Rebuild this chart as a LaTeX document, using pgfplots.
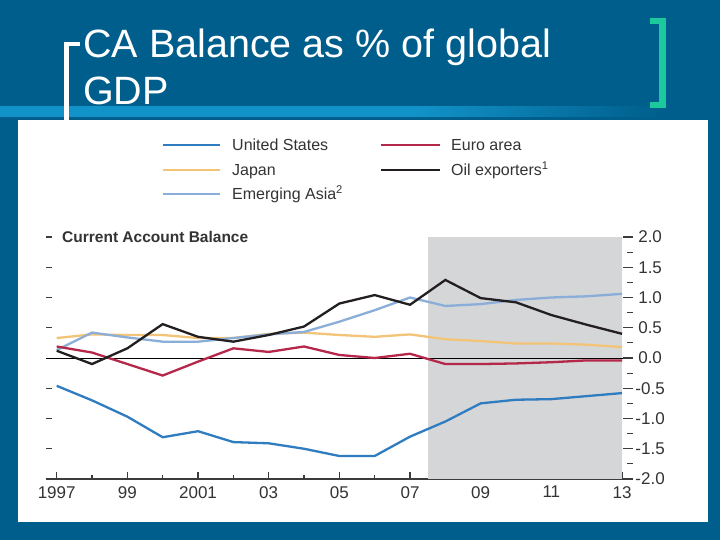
\documentclass[border=0pt]{standalone}
\usepackage{pgfplots}
\pgfplotsset{compat=1.18}
\usepackage{fontspec}
\setmainfont{Liberation Sans}
\definecolor{bg}{HTML}{005E8C}
\definecolor{band}{HTML}{1192C8}
\definecolor{grn}{HTML}{1CC99C}
\definecolor{shade}{HTML}{D5D6D8}
\definecolor{axgray}{HTML}{3C3C3C}
\definecolor{txt}{HTML}{333333}
\definecolor{cus}{HTML}{2F7DC0}
\definecolor{ceu}{HTML}{B5284A}
\definecolor{cjp}{HTML}{F3C478}
\definecolor{cea}{HTML}{8AAED8}
\definecolor{coil}{HTML}{231F20}
\pgfdeclarehorizontalshading{bandfade}{100bp}{color(0bp)=(band); color(54bp)=(band); color(71bp)=(bg); color(100bp)=(bg)}

\pgfplotstableread{
year us eu jp ea oil
1997 -0.46 0.19 0.33 0.13 0.12
1998 -0.70 0.09 0.39 0.42 -0.10
1999 -0.97 -0.10 0.38 0.34 0.16
2000 -1.31 -0.29 0.38 0.27 0.56
2001 -1.21 -0.06 0.33 0.27 0.35
2002 -1.39 0.16 0.33 0.33 0.27
2003 -1.41 0.10 0.40 0.39 0.38
2004 -1.50 0.19 0.42 0.43 0.52
2005 -1.62 0.05 0.38 0.60 0.90
2006 -1.62 0.00 0.35 0.79 1.04
2007 -1.30 0.07 0.39 1.00 0.88
2008 -1.05 -0.10 0.31 0.86 1.29
2009 -0.75 -0.10 0.28 0.89 0.99
2010 -0.69 -0.09 0.24 0.96 0.92
2011 -0.68 -0.07 0.24 1.00 0.71
2012 -0.63 -0.04 0.22 1.02 0.55
2013 -0.58 -0.04 0.18 1.06 0.40
}\cadata

\begin{document}
\begin{tikzpicture}
% slide background
\fill[bg] (0pt,0pt) rectangle (720pt,540pt);
\shade[shading=bandfade] (0pt,423pt) rectangle (720pt,433pt);
\fill[white] (18pt,18pt) rectangle (708pt,420pt);
% brackets
\fill[white] (64pt,415pt) rectangle (69pt,498pt);
\fill[white] (64pt,494pt) rectangle (80pt,498pt);
\fill[grn] (659pt,432pt) rectangle (666pt,522pt);
\fill[grn] (650pt,516pt) rectangle (666pt,522pt);
\fill[grn] (650pt,432pt) rectangle (666pt,438pt);
% title
\node[anchor=base west, inner sep=0pt, text=white, font=\fontsize{39.5}{46}\selectfont] at (83pt,482pt) {CA Balance as \% of global};
\node[anchor=base west, inner sep=0pt, text=white, font=\fontsize{39.5}{46}\selectfont] at (83pt,435pt) {GDP};

% main axis: data + bottom x axis
\begin{axis}[
  at={(46.1pt,61pt)}, anchor=south west,
  scale only axis, width=586.5pt, height=242pt,
  xmin=1996.7, xmax=2013.3, ymin=-2, ymax=2,
  axis x line*=bottom, axis y line=none,
  x axis line style={line width=1.2pt, color=axgray, -},
  xtick={1997,1999,...,2013},
  xticklabels={1997,99,2001,03,05,07,09,11,13},
  minor xtick={1998,2000,...,2012},
  tick align=inside,
  major tick length=7pt, minor tick length=4pt,
  tick style={color=axgray, line width=1.1pt},
  xticklabel style={anchor=north, inner sep=0pt, yshift=-7pt, text=txt, font=\fontsize{17}{19}\selectfont},
]
\addplot[fill=shade, draw=none] coordinates {(2007.5,-2) (2013,-2) (2013,2) (2007.5,2)} -- cycle;
\addplot[black, line width=0.8pt] coordinates {(1996.7,0) (2013.3,0)};
\addplot[cjp, line width=2.3pt] table[x=year, y=jp] {\cadata};
\addplot[cea, line width=2.3pt] table[x=year, y=ea] {\cadata};
\addplot[ceu, line width=2.3pt] table[x=year, y=eu] {\cadata};
\addplot[cus, line width=2.3pt] table[x=year, y=us] {\cadata};
\addplot[coil, line width=2.3pt] table[x=year, y=oil] {\cadata};
\end{axis}

% right y axis
\begin{axis}[
  at={(46.1pt,61pt)}, anchor=south west,
  scale only axis, width=586.5pt, height=242pt,
  xmin=1996.7, xmax=2013.3, ymin=-2, ymax=2,
  axis x line=none, axis y line*=right,
  y axis line style={draw=none},
  ytick={-2,-1.5,...,2},
  yticklabels={-2.0,-1.5,-1.0,-0.5,0.0,0.5,1.0,1.5,2.0},
  minor ytick={-1.75,-1.25,...,1.75},
  tick align=inside,
  major tick length=10pt, minor tick length=6pt,
  tick style={color=axgray, line width=1.1pt},
  yticklabel style={anchor=center, inner sep=0pt, xshift=17.5pt, text=txt, font=\fontsize{17}{19}\selectfont},
]
\end{axis}

% left dashes
\begin{axis}[
  at={(46.1pt,61pt)}, anchor=south west,
  scale only axis, width=586.5pt, height=242pt,
  xmin=1996.7, xmax=2013.3, ymin=-2, ymax=2,
  axis x line=none, axis y line*=left,
  y axis line style={draw=none},
  ytick={-1.5,-1,-0.5,0.5,1,1.5,2},
  yticklabels={},
  tick align=inside,
  major tick length=6pt,
  tick style={color=axgray, line width=1.3pt},
]
\end{axis}

% chart label
\node[anchor=west, inner sep=0pt, text=txt, font=\bfseries\fontsize{15.5}{17}\selectfont] at (62pt,303pt) {Current Account Balance};

% legend
\begin{scope}[font=\fontsize{16}{18}\selectfont]
\draw[cus, line width=2.3pt] (163pt,395pt) -- (220pt,395pt);
\node[anchor=base west, inner sep=0pt, text=txt] at (232pt,389pt) {United States};
\draw[cjp, line width=2.3pt] (163pt,370pt) -- (220pt,370pt);
\node[anchor=base west, inner sep=0pt, text=txt] at (232pt,364pt) {Japan};
\draw[cea, line width=2.3pt] (163pt,346pt) -- (220pt,346pt);
\node[anchor=base west, inner sep=0pt, text=txt] at (232pt,340pt) {Emerging Asia\textsuperscript{2}};
\draw[ceu, line width=2.3pt] (381pt,395pt) -- (440pt,395pt);
\node[anchor=base west, inner sep=0pt, text=txt] at (451pt,389pt) {Euro area};
\draw[coil, line width=2.3pt] (381pt,370pt) -- (440pt,370pt);
\node[anchor=base west, inner sep=0pt, text=txt] at (451pt,364pt) {Oil exporters\textsuperscript{1}};
\end{scope}
\end{tikzpicture}
\end{document}
